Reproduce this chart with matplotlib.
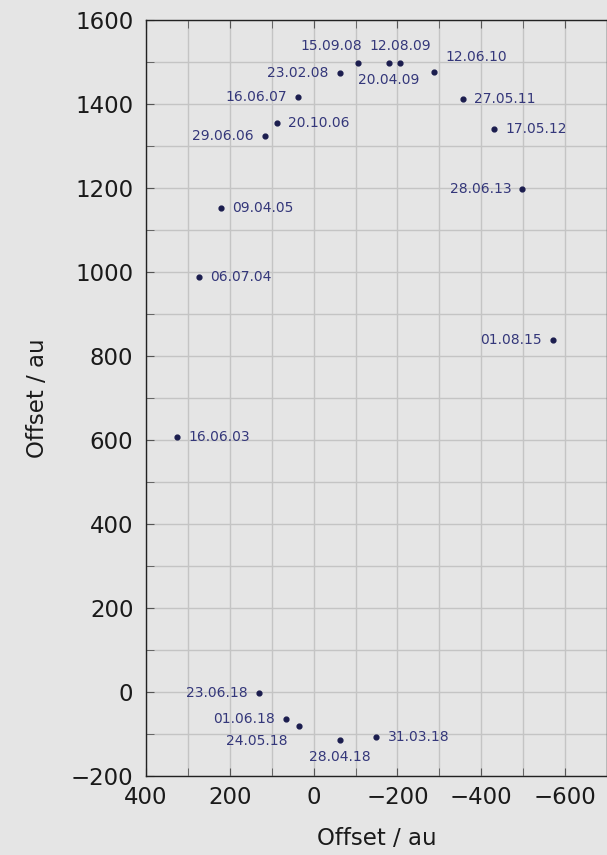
import matplotlib.pyplot as plt
from matplotlib.ticker import MultipleLocator

plt.rcParams['font.family'] = ['DejaVu Sans']

# Datum der Messung und Position
dates = ['16.06.03', '06.07.04', '09.04.05', '29.06.06', '20.10.06', '16.06.07',
         '23.02.08', '15.09.08', '20.04.09', '12.08.09', '12.06.10', '27.05.11',
         '17.05.12', '28.06.13', '01.08.15', '31.03.18', '28.04.18', '24.05.18',
         '01.06.18', '23.06.18']
x_off = [326, 274, 221, 117, 88, 38, -62, -105, -179, -207, -288, -357,
         -431, -498, -571, -150, -62, 36, 67, 131]
y_off = [607, 988, 1152, 1324, 1355, 1417, 1474, 1498, 1498, 1498, 1476, 1412,
         1340, 1198, 838, -107, -114, -81, -64, -2]

# Beschriftungsposition (dx, dy in Punkten, ha)
label_pos = {
    '29.06.06': (-8, 0, 'right'), '16.06.07': (-8, 0, 'right'),
    '23.02.08': (-8, 0, 'right'), '28.06.13': (-8, 0, 'right'),
    '01.08.15': (-8, 0, 'right'), '23.06.18': (-8, 0, 'right'),
    '01.06.18': (-8, 0, 'right'), '24.05.18': (-8, -11, 'right'),
    '15.09.08': (-19, 12, 'center'), '12.08.09': (0, 12, 'center'),
    '20.04.09': (0, -12, 'center'), '12.06.10': (8, 11, 'left'),
    '28.04.18': (0, -12, 'center'),
}

bg = '#e5e5e5'
fig = plt.figure(figsize=(6.07, 8.55), dpi=100, facecolor=bg)
ax = fig.add_axes([0.2405, 0.0924, 0.7595, 0.8842])
ax.set_facecolor(bg)

ax.scatter(x_off, y_off, s=12, color='#1b1d4e', zorder=3)
for d, x, y in zip(dates, x_off, y_off):
    dx, dy, ha = label_pos.get(d, (8, 0, 'left'))
    ax.annotate(d, (x, y), xytext=(dx, dy), textcoords='offset points',
                ha=ha, va='center', fontsize=10, color='#34377a')

ax.set_xlim(400, -700)
ax.set_ylim(-200, 1600)
ax.xaxis.set_major_locator(MultipleLocator(200))
ax.xaxis.set_minor_locator(MultipleLocator(100))
ax.yaxis.set_major_locator(MultipleLocator(200))
ax.yaxis.set_minor_locator(MultipleLocator(100))
ax.grid(True, which='both', color='#c4c4c4', linewidth=1)
ax.set_axisbelow(True)
ax.tick_params(which='both', direction='in', top=True, right=False,
               length=6, color='#555555', labelsize=16.5, labelcolor='#1a1a1a')
ax.tick_params(axis='x', pad=7)
ax.tick_params(axis='y', pad=9)
for s in ax.spines.values():
    s.set_color('#222222')
    s.set_linewidth(1)

ax.set_xlabel('Offset / au', fontsize=16.5, labelpad=13, color='#1a1a1a')
ax.set_ylabel('Offset / au', fontsize=16.5, labelpad=16, color='#1a1a1a')

fig.savefig('out.png', dpi=100, facecolor=bg)
